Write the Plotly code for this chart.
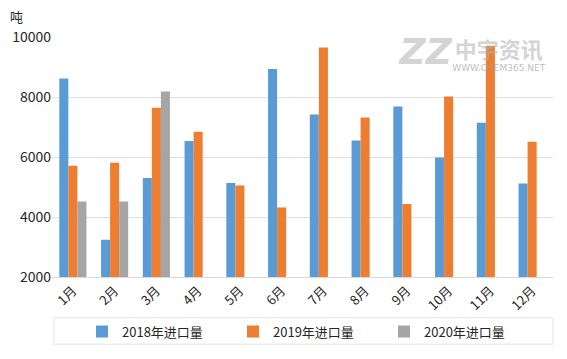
import plotly.graph_objects as go

months = ["1月", "2月", "3月", "4月", "5月", "6月", "7月", "8月", "9月", "10月", "11月", "12月"]
imports_2018 = [8620, 3240, 5300, 6530, 5130, 8930, 7420, 6550, 7680, 5980, 7140, 5120]
imports_2019 = [5710, 5810, 7640, 6840, 5050, 4320, 9650, 7320, 4430, 8020, 9710, 6510]
imports_2020 = [4520, 4520, 8180, None, None, None, None, None, None, None, None, None]
series_names = ["2018年进口量", "2019年进口量", "2020年进口量"]
colors = ["#5B9BD5", "#ED7D31", "#A5A5A5"]

font_family = "Noto Sans CJK SC, Noto Sans, sans-serif"
idx = list(range(len(months)))

fig = go.Figure()
# watermark (drawn first so bars cover it)
wm_color = "rgba(175,175,175,0.55)"
fig.add_trace(go.Scatter(x=[8.45], y=[9390], mode="text", text=["<b><i>ZZ</i></b>"], showlegend=False,
                         hoverinfo="skip", textfont=dict(size=36, color=wm_color, family="DejaVu Sans")))
fig.add_trace(go.Scatter(x=[10.2], y=[9480], mode="text", text=["<b>中宇资讯</b>"], showlegend=False,
                         hoverinfo="skip", textfont=dict(size=22, color=wm_color, family=font_family)))
fig.add_trace(go.Scatter(x=[10.2], y=[8930], mode="text", text=["WWW.CHEM365.NET"], showlegend=False,
                         hoverinfo="skip", textfont=dict(size=9, color="rgba(160,160,160,0.7)", family="DejaVu Sans")))

for name, vals, c in zip(series_names, [imports_2018, imports_2019, imports_2020], colors):
    fig.add_trace(go.Bar(x=idx, y=vals, name=name, marker=dict(color=c, line=dict(width=0))))

fig.update_layout(
    width=567, height=359,
    barmode="group", bargap=0.35, bargroupgap=0,
    margin=dict(l=52, r=14, t=37, b=82),
    plot_bgcolor="white", paper_bgcolor="white",
    font=dict(family=font_family, size=12, color="#262626"),
    showlegend=True,
    legend=dict(orientation="h", x=0.512, xanchor="center", y=-0.165, yanchor="top",
                entrywidth=106, entrywidthmode="pixels", itemwidth=30,
                font=dict(size=13, color="#262626"), bgcolor="rgba(0,0,0,0)"),
    shapes=[dict(type="rect", xref="paper", yref="paper", x0=0.004, x1=1.0, y0=-0.28, y1=-0.17,
                 line=dict(color="#E3E3E3", width=1))],
    annotations=[
        dict(text="吨", xref="paper", yref="paper", x=-0.088, y=1.0875, xanchor="left", yanchor="middle",
             showarrow=False, font=dict(size=13, color="#262626")),
    ],
)
fig.update_xaxes(range=[-0.5, 11.5], tickmode="array", tickvals=idx, ticktext=months,
                 showgrid=False, tickangle=-45, showline=True, linecolor="#D9D9D9", linewidth=1,
                 zeroline=False, ticks="", tickfont=dict(size=13, color="#262626"))
fig.update_yaxes(range=[2000, 10000], dtick=2000, tickformat="d", showgrid=True, gridcolor="#E0E0E0",
                 gridwidth=1, zeroline=False, showline=False, ticks="",
                 tickfont=dict(size=14, color="#262626"))

fig.write_html("out.html", config={"displayModeBar": False},
               post_script="document.body.style.margin='0';")
